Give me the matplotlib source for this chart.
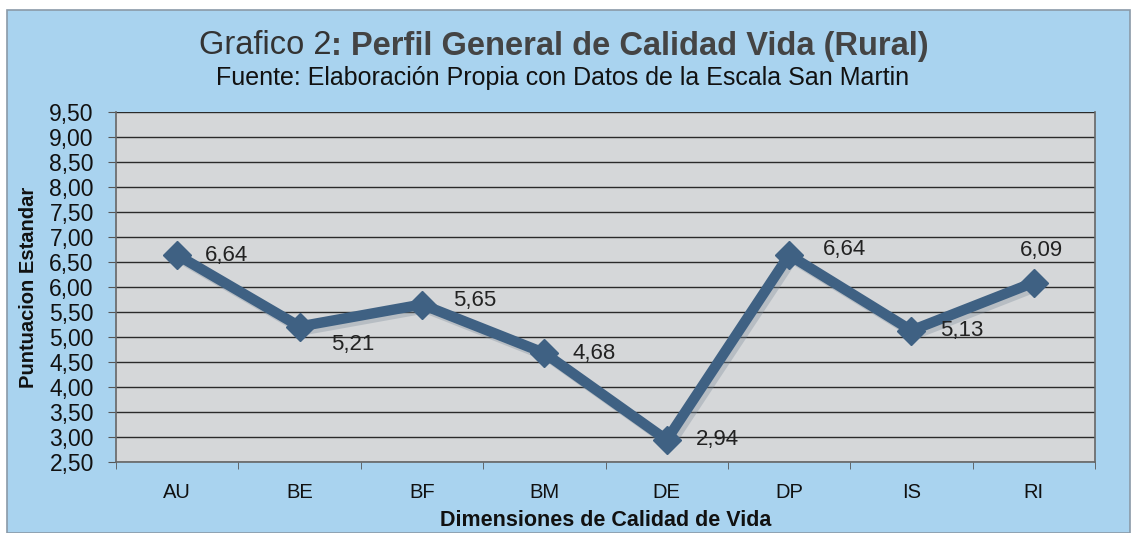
import matplotlib
matplotlib.use("Agg")
import matplotlib.pyplot as plt
from matplotlib.patches import Rectangle
import numpy as np

categories = ["AU", "BE", "BF", "BM", "DE", "DP", "IS", "RI"]
values = [6.64, 5.21, 5.65, 4.68, 2.94, 6.64, 5.13, 6.09]
value_labels = ["6,64", "5,21", "5,65", "4,68", "2,94", "6,64", "5,13", "6,09"]
yticks = [2.5, 3.0, 3.5, 4.0, 4.5, 5.0, 5.5, 6.0, 6.5, 7.0, 7.5, 8.0, 8.5, 9.0, 9.5]
ytick_labels = ["2,50", "3,00", "3,50", "4,00", "4,50", "5,00", "5,50", "6,00",
                "6,50", "7,00", "7,50", "8,00", "8,50", "9,00", "9,50"]
# label offsets in pixels (dx, dy) and horizontal alignment
label_offsets = [(28, 0, "left"), (31, -18, "left"), (31, 4, "left"), (28, 0, "left"),
                 (29, 0, "left"), (34, 6, "left"), (29, 0, "left"), (8, 32, "center")]

plt.rcParams["font.family"] = ["Liberation Sans", "DejaVu Sans"]

W, H = 1138, 533
fig = plt.figure(figsize=(W / 100, H / 100), dpi=100)
fig.patch.set_facecolor("white")
bg = "#a9d3ef"
fig.patches.append(Rectangle((7 / W, 0), (1130 - 7) / W, (H - 10) / H,
                             transform=fig.transFigure, facecolor=bg,
                             edgecolor="#8a9aa8", linewidth=1.2, zorder=-10))

ax = fig.add_axes([116 / W, 1 - 462 / H, (1095 - 116) / W, (462 - 112) / H])
ax.set_zorder(1)
ax.set_facecolor("#d5d7d9")
x = np.arange(len(categories))
ax.set_xlim(-0.5, len(categories) - 0.5)
ax.set_ylim(2.5, 9.5)
ax.set_yticks(yticks)
ax.set_yticklabels(ytick_labels, fontsize=16.5, color="#111111")
ax.set_xticks(x)
ax.set_xticklabels(categories, fontsize=14.5, color="#111111")
ax.tick_params(axis="x", length=0, pad=15)
ax.set_xticks(np.arange(-0.5, len(categories), 1.0), minor=True)
ax.tick_params(axis="x", which="minor", length=5, color="#555555", direction="out")
ax.tick_params(axis="y", length=6, color="#555555", pad=10)
ax.grid(axis="y", color="#2a2a2a", linewidth=1.0)
ax.set_axisbelow(True)
for s in ["top"]:
    ax.spines[s].set_visible(False)
for s in ["left", "right", "bottom"]:
    ax.spines[s].set_color("#666666")
    ax.spines[s].set_linewidth(1.2)

lc = "#3f6183"
# soft shadow
ax.plot(x + 0.03, np.array(values) - 0.08, color="#7f8e9c", linewidth=7, alpha=0.35,
        solid_joinstyle="miter", zorder=2)
ax.plot(x, values, color=lc, linewidth=7.5, marker="D", markersize=14,
        markerfacecolor=lc, markeredgecolor=lc, solid_joinstyle="miter", zorder=3)

for xi, v, lab, (dx, dy, ha) in zip(x, values, value_labels, label_offsets):
    ax.annotate(lab, (xi, v), xytext=(dx, dy), textcoords="offset pixels",
                ha=ha, va="center", fontsize=16, color="#222222", zorder=4)

ax.set_ylabel("Puntuacion Estandar", fontsize=14.5, fontweight="bold", color="#111111",
              labelpad=8)
ax.set_xlabel("Dimensiones de Calidad de Vida", fontsize=15.5, fontweight="bold",
              color="#111111", labelpad=6)

# title: mixed regular + bold
t1 = fig.text(0, 1 - 46 / H, "Grafico 2", fontsize=23.5, color="#333333", va="center")
t2 = fig.text(0, 1 - 46 / H, ": Perfil General de Calidad Vida (Rural)", fontsize=23.5,
              fontweight="bold", color="#444444", va="center")
fig.canvas.draw()
r = fig.canvas.get_renderer()
w1 = t1.get_window_extent(r).width
w2 = t2.get_window_extent(r).width
cx = 564
start = cx - (w1 + w2) / 2
t1.set_x(start / W)
t2.set_x((start + w1) / W)
fig.text(563 / W, 1 - 78 / H, "Fuente: Elaboración Propia con Datos de la Escala San Martin",
         fontsize=18, color="#111111", ha="center", va="center")

fig.savefig("out.png", dpi=100, facecolor=fig.get_facecolor())
